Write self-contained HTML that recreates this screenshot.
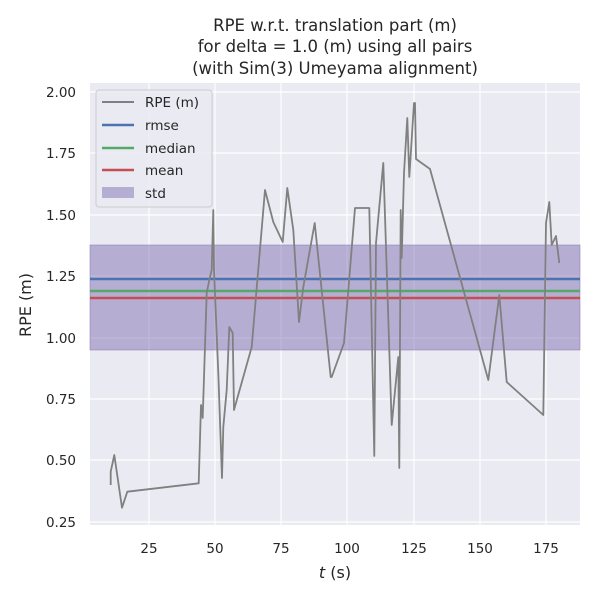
<!DOCTYPE html>
<html><head><style>body{margin:0;background:#fff}</style></head><body>
<svg width="600" height="600" xmlns="http://www.w3.org/2000/svg" font-family="DejaVu Sans, Liberation Sans, sans-serif">
<rect x="90" y="83" width="490" height="442" fill="#eaeaf2"/>
<g stroke="#fff" stroke-width="1.2">
<line x1="149" y1="83" x2="149" y2="525"/><line x1="215" y1="83" x2="215" y2="525"/><line x1="281" y1="83" x2="281" y2="525"/><line x1="347" y1="83" x2="347" y2="525"/><line x1="414" y1="83" x2="414" y2="525"/><line x1="480" y1="83" x2="480" y2="525"/><line x1="546" y1="83" x2="546" y2="525"/>
<line x1="90" y1="92" x2="580" y2="92"/><line x1="90" y1="153" x2="580" y2="153"/><line x1="90" y1="215" x2="580" y2="215"/><line x1="90" y1="276" x2="580" y2="276"/><line x1="90" y1="338" x2="580" y2="338"/><line x1="90" y1="399" x2="580" y2="399"/><line x1="90" y1="460" x2="580" y2="460"/><line x1="90" y1="522" x2="580" y2="522"/>
</g>
<rect x="90" y="245" width="490" height="105" fill="#8172b2" fill-opacity="0.5" stroke="#8172b2" stroke-opacity="0.5"/>
<line x1="90" y1="279" x2="580" y2="279" stroke="#4c72b0" stroke-width="2.5"/>
<line x1="90" y1="291" x2="580" y2="291" stroke="#55a868" stroke-width="2.5"/>
<line x1="90" y1="298" x2="580" y2="298" stroke="#c44e52" stroke-width="2.5"/>
<polyline fill="none" stroke="#808080" stroke-width="1.8" stroke-linejoin="round" points="110.7,485 110.7,471.7 114.3,455 122,507.7 127.3,491.7 198.7,483.3 201,405 202.7,418 206.7,293 209.3,280 211.7,270 213.3,210 214,270 218.3,373 222,478 223.3,427 226.7,390 229.3,327 232.7,333 234,410 251.7,347 265,190 273.3,222 282.7,242 287.3,188 293.3,230 299,322 303.3,287 314.7,223 330.7,377 331.7,377 344,343 355,208 369.3,208 374.3,456 376,243 383.3,163 391.7,425 398.3,357 399.3,468 400.7,210 401.7,258 404,173 407.3,118 409.3,177 414,103 415,103 416,159 430,169 488.3,380 499.3,295 506.7,382 543.3,415 546,223 549.3,202 551.7,245 556,236 559.3,263"/>
<rect x="96" y="90" width="116" height="117" rx="3" fill="#eaeaf2" fill-opacity="0.8" stroke="#cccccc"/>
<line x1="102" y1="102" x2="134" y2="102" stroke="#808080" stroke-width="2"/>
<line x1="102" y1="125" x2="134" y2="125" stroke="#4c72b0" stroke-width="2.5"/>
<line x1="102" y1="148" x2="134" y2="148" stroke="#55a868" stroke-width="2.5"/>
<line x1="102" y1="170" x2="134" y2="170" stroke="#c44e52" stroke-width="2.5"/>
<rect x="102" y="187" width="32" height="11" fill="#8172b2" fill-opacity="0.5"/>
<g font-size="13.5" fill="#262626">
<text x="145" y="107">RPE (m)</text><text x="145" y="130">rmse</text><text x="145" y="153">median</text><text x="145" y="175">mean</text><text x="145" y="198">std</text>
</g>
<g font-size="13.5" fill="#262626" text-anchor="end">
<text x="76" y="97">2.00</text><text x="76" y="158">1.75</text><text x="76" y="220">1.50</text><text x="76" y="281">1.25</text><text x="76" y="343">1.00</text><text x="76" y="404">0.75</text><text x="76" y="465">0.50</text><text x="76" y="527">0.25</text>
</g>
<g font-size="13.5" fill="#262626" text-anchor="middle">
<text x="149" y="553">25</text><text x="215" y="553">50</text><text x="281" y="553">75</text><text x="347" y="553">100</text><text x="414" y="553">125</text><text x="480" y="553">150</text><text x="546" y="553">175</text>
<text x="335" y="578" font-size="16"><tspan font-style="italic">t</tspan> (s)</text>
<text x="31" y="305" font-size="16" transform="rotate(-90 31 305)">RPE (m)</text>
<text x="335" y="31" font-size="16.5">RPE w.r.t. translation part (m)</text>
<text x="335" y="52" font-size="16.5">for delta = 1.0 (m) using all pairs</text>
<text x="335" y="74" font-size="16.5">(with Sim(3) Umeyama alignment)</text>
</g>
</svg>
</body></html>
